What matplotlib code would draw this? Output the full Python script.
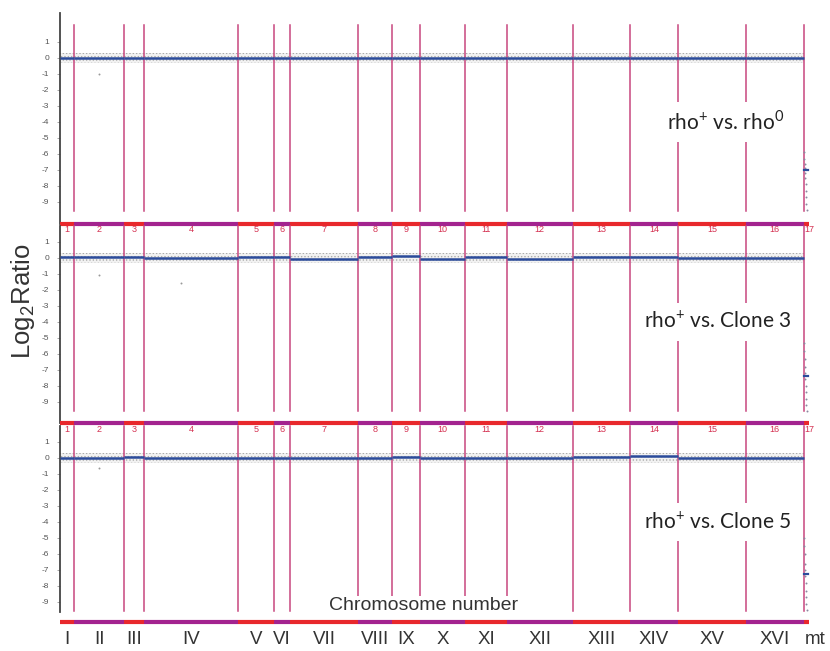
import matplotlib
matplotlib.use("Agg")
import matplotlib.pyplot as plt
import numpy as np

plt.rcParams['font.family'] = ['Liberation Sans', 'DejaVu Sans']
plt.rcParams['mathtext.fontset'] = 'custom'
plt.rcParams['mathtext.rm'] = 'Lato'
plt.rcParams['hatch.linewidth'] = 0.6

# ---------------- data ----------------
chrom_roman = ['I', 'II', 'III', 'IV', 'V', 'VI', 'VII', 'VIII', 'IX', 'X',
               'XI', 'XII', 'XIII', 'XIV', 'XV', 'XVI', 'mt']
chrom_numbers = [str(i) for i in range(1, 18)]
chrom_lengths_kb = [230, 813, 317, 1532, 577, 270, 1091, 563, 440, 745,
                    667, 1078, 924, 784, 1091, 948, 86]
yticks = [1, 0, -1, -2, -3, -4, -5, -6, -7, -8, -9]

panel_titles = [r'rho$^{+}$ vs. rho$^{0}$',
                r'rho$^{+}$ vs. Clone 3',
                r'rho$^{+}$ vs. Clone 5']

# segmented log2 ratio per nuclear chromosome
seg_rho0 = [0.02, 0.03, 0.02, 0.03, 0.02, 0.02, 0.03, 0.02, 0.03, 0.02,
            0.02, 0.03, 0.03, 0.02, 0.03, 0.02]
seg_clone3 = [0.05, 0.02, 0.03, 0.0, 0.02, 0.03, -0.05, 0.02, 0.08, -0.05,
              0.02, -0.08, 0.03, 0.02, 0.0, -0.02]
seg_clone5 = [0.03, 0.0, 0.05, 0.0, 0.02, 0.03, 0.02, 0.02, 0.05, 0.02,
              0.03, 0.02, 0.05, 0.1, 0.02, 0.02]
segments = [seg_rho0, seg_clone3, seg_clone5]

# mitochondrial (mt) probes: positions within mt (kb) and log2 ratios
mt_pos_kb = [8, 15, 22, 30, 38, 45, 52, 60, 68, 75, 82]
mt_rho0 = [-5.9, -6.3, -6.6, -6.9, -7.2, -7.5, -7.9, -8.3, -8.7, -9.1, -9.5]
mt_clone3 = [-5.3, -5.8, -6.3, -6.8, -7.2, -7.6, -8.0, -8.4, -8.8, -9.2, -9.6]
mt_clone5 = [-5.0, -5.5, -6.0, -6.6, -7.0, -7.4, -7.8, -8.3, -8.7, -9.1, -9.5]
mt_points = [mt_rho0, mt_clone3, mt_clone5]
mt_segment = [-7.0, -7.4, -7.25]

# isolated outlier probes (genome kb, log2 ratio)
outliers = [([640], [-1.0]), ([640, 1970], [-1.1, -1.6]), ([640], [-0.6])]

# ---------------- layout ----------------
W, H = 830, 651
fig = plt.figure(figsize=(W / 100, H / 100), dpi=100)

starts = np.concatenate([[0], np.cumsum(chrom_lengths_kb)[:-1]])
ends = np.cumsum(chrom_lengths_kb)
total = ends[-1]
centers = (starts + ends) / 2

x_left_px, x_right_px = 60, 809.3
unit_px = 16.0
# (top px, bottom px, zero px)
panels_px = [(13, 228, 58.0), (226, 427, 257.7), (426, 626, 458.0)]

bar_red = '#e8282c'
bar_purple = '#a3238f'
vline_col = '#c8467e'
num_col = '#d43050'
grey_txt = '#555555'

for i, (T, B, y0) in enumerate(panels_px):
    ax = fig.add_axes([x_left_px / W, 1 - B / H, (x_right_px - x_left_px) / W, (B - T) / H])
    ax.set_facecolor('none')
    ax.set_xlim(0, total)
    ax.set_ylim((y0 - B) / unit_px, (y0 - T) / unit_px)
    for s in ['top', 'right', 'bottom']:
        ax.spines[s].set_visible(False)
    ax.spines['left'].set_color('#444444')
    ax.spines['left'].set_linewidth(1.3)
    bar_val = (y0 - (B - 4)) / unit_px
    if i == 2:
        ax.spines['left'].set_bounds(-9.6, ax.get_ylim()[1])
    else:
        ax.spines['left'].set_bounds(bar_val, ax.get_ylim()[1])
    ax.set_xticks([])
    ax.set_yticks(yticks)
    ax.set_yticklabels([str(t) for t in yticks], fontsize=6, color=grey_txt)
    ax.tick_params(axis='y', length=2, width=0.6, color='#999999', pad=6)

    line_top = (y0 - (25 if i == 0 else T)) / unit_px
    line_bot = -9.55
    # chromosome boundaries
    for b in ends[:-1]:
        ax.plot([b, b], [line_bot, line_top], color=vline_col, lw=1.1, zorder=2,
                clip_on=False)

    # probe scatter (band) and segmented line
    seg = segments[i]
    for c in range(16):
        ax.fill_between([starts[c], ends[c]], -0.32, 0.32, facecolor='#f2f2f2',
                        edgecolor='#aaaaaa', hatch='.....', linewidth=0, zorder=1)
        ax.plot([starts[c], ends[c]], [seg[c], seg[c]], color='#2b4b9b', lw=1.8,
                zorder=3, solid_capstyle='butt')
    ox, oy = outliers[i]
    ax.scatter(ox, oy, s=2, color='#999999', zorder=3, linewidths=0)

    # mt
    ax.scatter(starts[16] + np.array(mt_pos_kb) * 0.5, mt_points[i], s=2,
               color='#8a8aa0', zorder=3, linewidths=0, clip_on=False)
    ax.plot([starts[16], starts[16] + 60], [mt_segment[i]] * 2, color='#2b4b9b',
            lw=1.6, zorder=3, clip_on=False)

    # colored chromosome bar
    for c in range(17):
        ax.plot([starts[c], ends[c]], [bar_val, bar_val],
                color=bar_red if c % 2 == 0 else bar_purple, lw=3.0,
                solid_capstyle='butt', clip_on=False, zorder=4)

    if i < 2:
        num_val = (y0 - (B + 2)) / unit_px
        for c in range(17):
            xc = centers[c] if c < 16 else starts[c]
            ax.text(xc, num_val, chrom_numbers[c], fontsize=6.5, color=num_col,
                    ha='center' if c < 16 else 'left', va='center', clip_on=False)
    else:
        rom_val = (y0 - 640) / unit_px
        for c in range(17):
            if c < 16:
                ax.text(centers[c], rom_val, chrom_roman[c], fontsize=13.5,
                        color='#333333', ha='center', va='center', clip_on=False)
            else:
                ax.text(starts[c] + 10, rom_val, chrom_roman[c], fontsize=13.5,
                        color='#333333', ha='left', va='center', clip_on=False)
        xmid = (424 - x_left_px) / (x_right_px - x_left_px) * total
        ax.text(xmid, (y0 - 606) / unit_px, 'Chromosome number', fontsize=14,
                color='#333333', ha='center', va='center', zorder=6,
                bbox=dict(facecolor='white', edgecolor='none', pad=1))

    # panel title
    xc_px = 726 if i == 0 else 718
    xt = (xc_px - x_left_px) / (x_right_px - x_left_px) * total
    ax.text(xt, -4.0, panel_titles[i], fontsize=15, color='#222222', ha='center',
            va='center', zorder=6, family='Lato',
            bbox=dict(facecolor='white', edgecolor='none', pad=6))

fig.text(23 / W, 1 - 301 / H, r'Log$_2$Ratio', rotation=90, fontsize=18.5,
         color='#333333', ha='center', va='center')

fig.savefig('out.png', dpi=100, facecolor='white')
